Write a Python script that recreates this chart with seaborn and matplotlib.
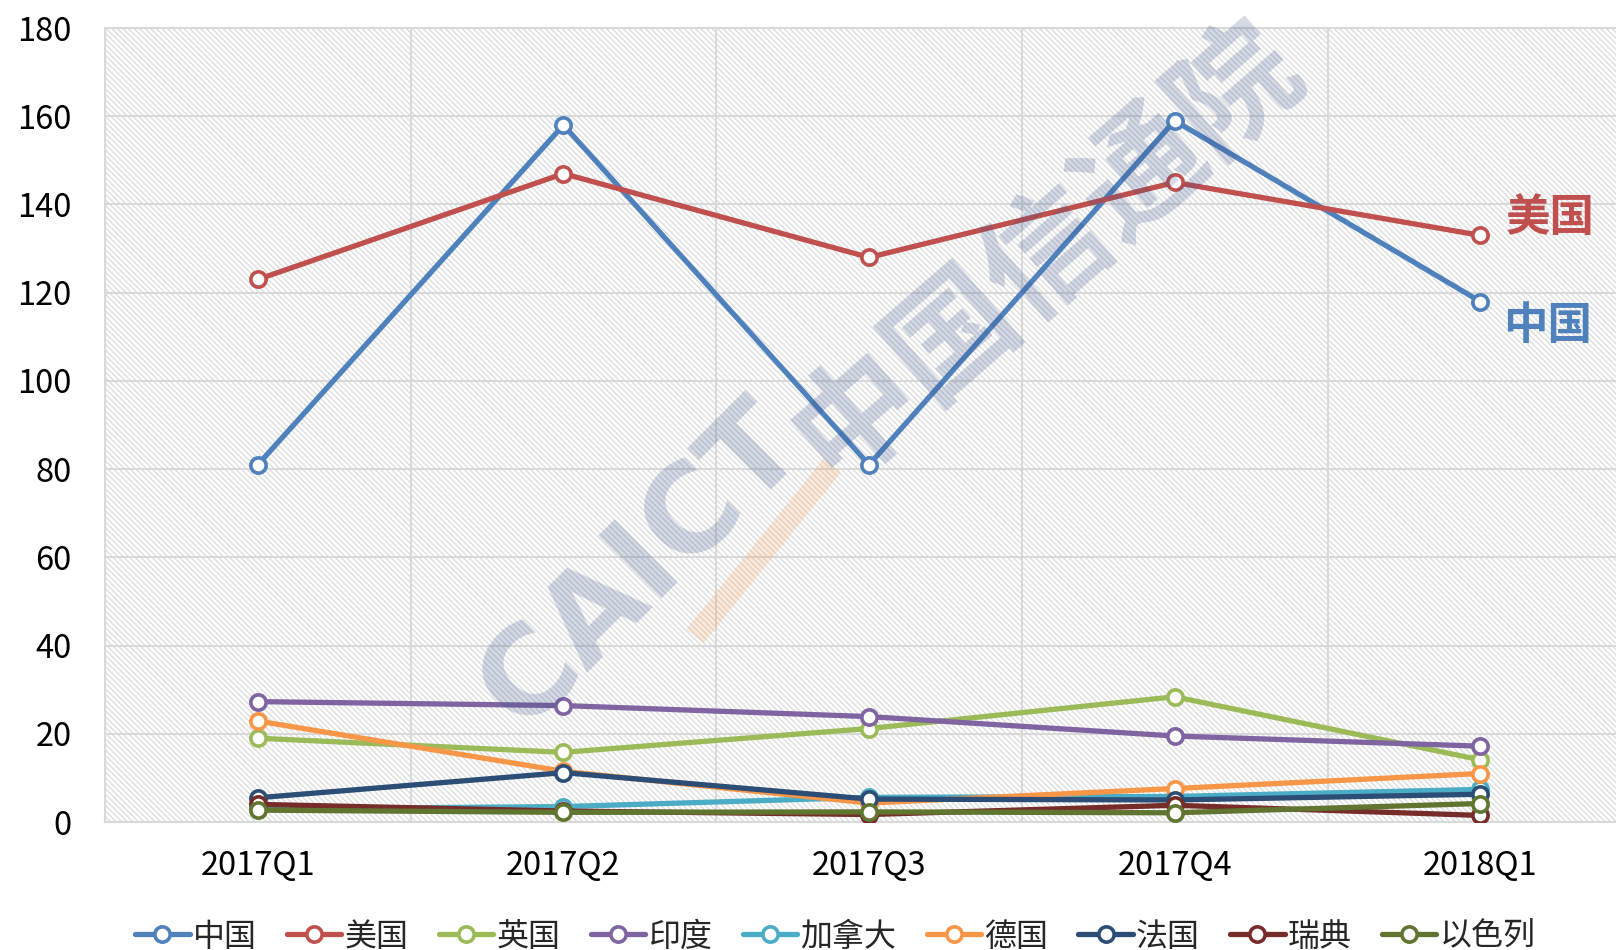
import matplotlib
matplotlib.use('Agg')
import matplotlib.pyplot as plt
import seaborn as sns
from matplotlib.patches import Rectangle
from matplotlib.lines import Line2D

quarters = ['2017Q1', '2017Q2', '2017Q3', '2017Q4', '2018Q1']
countries = ['中国', '美国', '英国', '印度', '加拿大', '德国', '法国', '瑞典', '以色列']
china = [81, 158, 81, 159, 118]
usa = [123, 147, 128, 145, 133]
uk = [19, 15.8, 21.2, 28.4, 14.1]
india = [27.3, 26.4, 23.9, 19.5, 17.2]
canada = [3.0, 3.5, 5.6, 5.8, 7.4]
germany = [22.9, 11.5, 4.3, 7.6, 11.0]
france = [5.5, 11.2, 5.2, 5.0, 6.3]
sweden = [4.0, 2.5, 1.7, 3.8, 1.5]
israel = [2.7, 2.2, 2.3, 2.1, 4.2]
colors = ['#4f81bd', '#c0504d', '#9bbb59', '#8064a2', '#4bacc6',
          '#f79646', '#2c4d75', '#772c2a', '#5f7530']
series = [china, usa, uk, india, canada, germany, france, sweden, israel]

sns.set_style('white')
plt.rcParams['font.family'] = ['Noto Sans CJK SC', 'DejaVu Sans']

fig = plt.figure(figsize=(16.16, 9.5), dpi=100)
ax = fig.add_axes([0.065, 0.1347, 0.9456, 0.8358])

for name, vals, c in zip(countries, series, colors):
    sns.lineplot(x=quarters, y=vals, color=c, lw=3.8, marker='o', ms=11,
                 mfc='white', mec=c, mew=2.6, label=name, ax=ax, zorder=3)

ax.set_xlim(-0.5, 4.5)
ax.set_ylim(0, 180)
ax.set_yticks(range(0, 181, 20))
ax.set_xticks([-0.5, 0.5, 1.5, 2.5, 3.5, 4.5], minor=True)
ax.set_xticks(range(5))
ax.set_xticklabels(quarters)
ax.grid(True, which='minor', axis='x', color='#d9d9d9', lw=1.5)
ax.grid(True, which='major', axis='y', color='#d9d9d9', lw=1.5)
ax.set_axisbelow(True)
ax.tick_params(axis='both', which='both', length=0, labelsize=23.5, colors='black')
ax.tick_params(axis='y', pad=24)
ax.tick_params(axis='x', pad=20)
for s in ax.spines.values():
    s.set_color('#d9d9d9')
    s.set_linewidth(1.5)
ax.set_xlabel('')
ax.set_ylabel('')

ax.add_patch(Rectangle((0, 0), 1, 1, transform=ax.transAxes, facecolor='none',
                       hatch='\\\\\\\\\\\\', edgecolor='#dedede', lw=0, zorder=0.1))

ax.text(4.23, 137, '美国', color='#c0504d', fontsize=32, fontweight='heavy',
        ha='center', va='center')
ax.text(4.22, 112.5, '中国', color='#4f81bd', fontsize=32, fontweight='heavy',
        ha='center', va='center')

# watermark
fig.text(0.397, 0.405, 'CAICT', fontsize=88, fontweight='bold', rotation=45,
         family='DejaVu Sans', color='#3a4f8c', alpha=0.22, ha='center', va='center', zorder=10)
fig.text(0.648, 0.735, '中国信通院', fontsize=90, fontweight='heavy', rotation=41,
         color='#3a4f8c', alpha=0.22, ha='center', va='center', zorder=10)
fig.add_artist(Line2D([0.43, 0.515], [0.33, 0.51], color='#f79646', lw=16,
                      alpha=0.2, solid_capstyle='butt', zorder=10))

leg = ax.legend(loc='upper center', bbox_to_anchor=(0.478, -0.088), ncol=9, frameon=False,
                fontsize=23, handlelength=1.7, handletextpad=0.1, columnspacing=0.95)

fig.savefig('out.png', dpi=100)
